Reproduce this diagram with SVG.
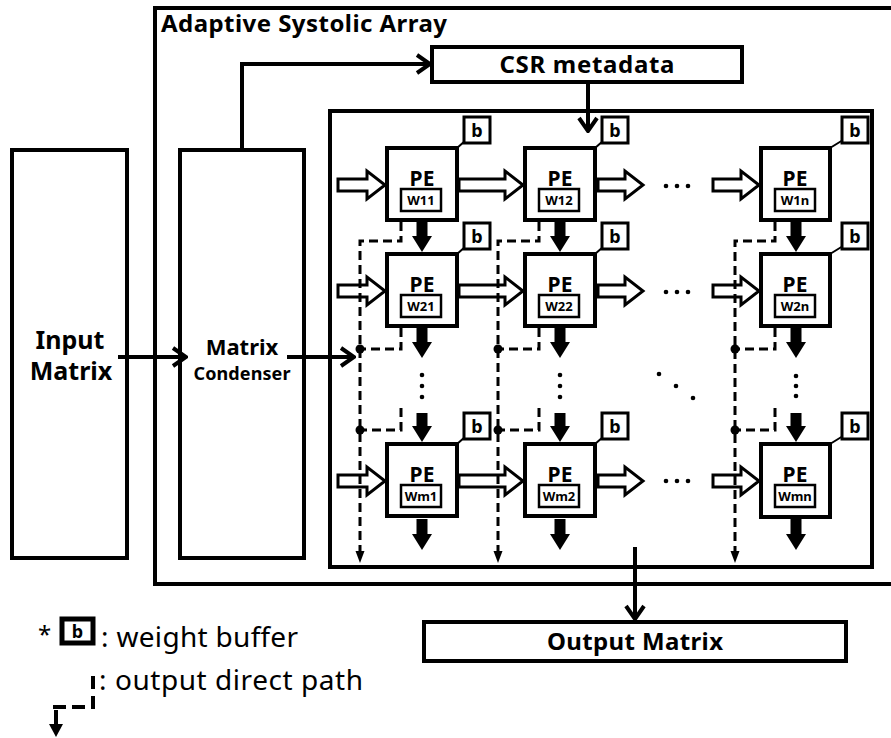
<svg xmlns="http://www.w3.org/2000/svg" width="891" height="738" viewBox="0 0 891 738">
<style>
text{font-family:"Noto Sans","Open Sans","DejaVu Sans",sans-serif;fill:#000}
.bold{font-weight:bold}
.mid{text-anchor:middle}
.box{fill:#fff;stroke:#000;stroke-width:4}
.pe{fill:#fff;stroke:#000;stroke-width:4}
.wb{fill:#fff;stroke:#000;stroke-width:2.5}
.bb{fill:#fff;stroke:#000;stroke-width:3}
.ln{fill:none;stroke:#000;stroke-width:4}
.thin{fill:none;stroke:#000;stroke-width:2}
.dash{fill:none;stroke:#000;stroke-width:3;stroke-dasharray:9 5}
.hol{fill:#fff;stroke:#000;stroke-width:3;stroke-linejoin:miter}
.blk{fill:#000;stroke:none}
.tpe{font-weight:bold;font-size:21px;text-anchor:middle}
.tw{font-weight:bold;font-size:13px;text-anchor:middle}
.tb{font-weight:bold;font-size:18px;text-anchor:middle}
</style>
<defs>
<marker id="chev" viewBox="-16 -12 18 24" refX="0" refY="0" markerWidth="18" markerHeight="24" orient="auto" markerUnits="userSpaceOnUse">
<path d="M-13,-9 L0,0 L-13,9" fill="none" stroke="#000" stroke-width="4"/>
</marker>
</defs>

<g id="adaptive-systolic-array">
<path class="ln" d="M896,8 H155 V584 H896"/>
<text class="bold" x="161" y="32" font-size="24" textLength="286">Adaptive Systolic Array</text>
</g>

<g id="input-matrix">
<rect class="box" x="12" y="150" width="115" height="408"/>
<text class="bold mid" x="70" y="349" font-size="25">Input</text>
<text class="bold mid" x="71" y="380" font-size="25">Matrix</text>
</g>

<g id="matrix-condenser">
<rect class="box" x="180" y="150" width="124" height="408"/>
<text class="bold mid" x="242" y="355" font-size="22">Matrix</text>
<text class="bold mid" x="242" y="380" font-size="18" textLength="97">Condenser</text>
</g>

<g id="csr-metadata">
<rect class="box" x="432" y="47" width="310" height="35"/>
<text class="bold mid" x="587" y="73" font-size="24" textLength="175">CSR metadata</text>
</g>

<g id="pe-array">
<rect class="box" x="330" y="111" width="542" height="456"/>
</g>

<g id="output-matrix">
<rect class="box" x="424" y="622" width="422" height="39"/>
<text class="bold mid" x="635" y="650" font-size="24" textLength="176">Output Matrix</text>
</g>

<g id="input-flow">
<polygon class="hol" points="338,179 367,179 367,171 385,185 367,199 367,191 338,191"/>
<polygon class="hol" points="459,179 505,179 505,171 523,185 505,199 505,191 459,191"/>
<polygon class="hol" points="598,179 625,179 625,171 643,185 625,199 625,191 598,191"/>
<polygon class="hol" points="713,179 741,179 741,171 759,185 741,199 741,191 713,191"/>
<polygon class="hol" points="338,285 367,285 367,277 385,291 367,305 367,297 338,297"/>
<polygon class="hol" points="459,285 505,285 505,277 523,291 505,305 505,297 459,297"/>
<polygon class="hol" points="598,285 625,285 625,277 643,291 625,305 625,297 598,297"/>
<polygon class="hol" points="713,285 741,285 741,277 759,291 741,305 741,297 713,297"/>
<polygon class="hol" points="338,475 367,475 367,467 385,481 367,495 367,487 338,487"/>
<polygon class="hol" points="459,475 505,475 505,467 523,481 505,495 505,487 459,487"/>
<polygon class="hol" points="598,475 625,475 625,467 643,481 625,495 625,487 598,487"/>
<polygon class="hol" points="713,475 741,475 741,467 759,481 741,495 741,487 713,487"/>
</g>

<g id="ellipses">
<circle class="blk" cx="666" cy="186" r="2.3"/><circle class="blk" cx="677" cy="186" r="2.3"/><circle class="blk" cx="688" cy="186" r="2.3"/>
<circle class="blk" cx="666" cy="292" r="2.3"/><circle class="blk" cx="677" cy="292" r="2.3"/><circle class="blk" cx="688" cy="292" r="2.3"/>
<circle class="blk" cx="666" cy="481" r="2.3"/><circle class="blk" cx="677" cy="481" r="2.3"/><circle class="blk" cx="688" cy="481" r="2.3"/>
<circle class="blk" cx="422" cy="375" r="2.3"/><circle class="blk" cx="422" cy="386" r="2.3"/><circle class="blk" cx="422" cy="397" r="2.3"/>
<circle class="blk" cx="560" cy="375" r="2.3"/><circle class="blk" cx="560" cy="386" r="2.3"/><circle class="blk" cx="560" cy="397" r="2.3"/>
<circle class="blk" cx="796" cy="376" r="2.3"/><circle class="blk" cx="796" cy="386" r="2.3"/><circle class="blk" cx="796" cy="396" r="2.3"/>
<circle class="blk" cx="659" cy="374" r="2.3"/><circle class="blk" cx="676" cy="386" r="2.3"/><circle class="blk" cx="693" cy="398" r="2.3"/>
</g>

<g id="pe-1-1"><rect class="pe" x="387" y="148" width="70" height="72"/><text class="tpe" x="422" y="186">PE</text><rect class="wb" x="401" y="189" width="40" height="22"/><text class="tw" x="421" y="205">W11</text><line class="thin" x1="457" y1="148" x2="465" y2="141"/><rect class="bb" x="464" y="117" width="26" height="26"/><text class="tb" x="477" y="137">b</text></g>
<g id="pe-1-2"><rect class="pe" x="525" y="148" width="70" height="72"/><text class="tpe" x="560" y="186">PE</text><rect class="wb" x="539" y="189" width="40" height="22"/><text class="tw" x="559" y="205">W12</text><line class="thin" x1="595" y1="148" x2="603" y2="141"/><rect class="bb" x="602" y="117" width="26" height="26"/><text class="tb" x="615" y="137">b</text></g>
<g id="pe-1-n"><rect class="pe" x="761" y="148" width="69" height="72"/><text class="tpe" x="795" y="186">PE</text><rect class="wb" x="775" y="189" width="40" height="22"/><text class="tw" x="795" y="205">W1n</text><line class="thin" x1="830" y1="148" x2="843" y2="140"/><rect class="bb" x="842" y="117" width="26" height="26"/><text class="tb" x="855" y="137">b</text></g>

<g id="pe-2-1"><rect class="pe" x="387" y="254" width="70" height="72"/><text class="tpe" x="422" y="292">PE</text><rect class="wb" x="401" y="295" width="40" height="22"/><text class="tw" x="421" y="311">W21</text><line class="thin" x1="457" y1="254" x2="465" y2="247"/><rect class="bb" x="464" y="223" width="26" height="26"/><text class="tb" x="477" y="243">b</text></g>
<g id="pe-2-2"><rect class="pe" x="525" y="254" width="70" height="72"/><text class="tpe" x="560" y="292">PE</text><rect class="wb" x="539" y="295" width="40" height="22"/><text class="tw" x="559" y="311">W22</text><line class="thin" x1="595" y1="254" x2="603" y2="247"/><rect class="bb" x="602" y="223" width="26" height="26"/><text class="tb" x="615" y="243">b</text></g>
<g id="pe-2-n"><rect class="pe" x="761" y="254" width="69" height="72"/><text class="tpe" x="795" y="292">PE</text><rect class="wb" x="775" y="295" width="40" height="22"/><text class="tw" x="795" y="311">W2n</text><line class="thin" x1="830" y1="254" x2="843" y2="246"/><rect class="bb" x="842" y="223" width="26" height="26"/><text class="tb" x="855" y="243">b</text></g>

<g id="pe-m-1"><rect class="pe" x="387" y="444" width="70" height="72"/><text class="tpe" x="422" y="482">PE</text><rect class="wb" x="401" y="485" width="40" height="22"/><text class="tw" x="421" y="501">Wm1</text><line class="thin" x1="457" y1="444" x2="465" y2="437"/><rect class="bb" x="464" y="413" width="26" height="26"/><text class="tb" x="477" y="433">b</text></g>
<g id="pe-m-2"><rect class="pe" x="525" y="444" width="70" height="72"/><text class="tpe" x="560" y="482">PE</text><rect class="wb" x="539" y="485" width="40" height="22"/><text class="tw" x="559" y="501">Wm2</text><line class="thin" x1="595" y1="444" x2="603" y2="437"/><rect class="bb" x="602" y="413" width="26" height="26"/><text class="tb" x="615" y="433">b</text></g>
<g id="pe-m-n"><rect class="pe" x="761" y="444" width="69" height="73"/><text class="tpe" x="795" y="482">PE</text><rect class="wb" x="775" y="485" width="40" height="22"/><text class="tw" x="795" y="501">Wmn</text><line class="thin" x1="830" y1="444" x2="843" y2="436"/><rect class="bb" x="842" y="413" width="26" height="26"/><text class="tb" x="855" y="433">b</text></g>

<g id="connectors">
<path class="ln" d="M118,357 H186" marker-end="url(#chev)"/>
<path class="ln" d="M287,357 H354" marker-end="url(#chev)"/>
<path class="ln" d="M242,150 V64 H430" marker-end="url(#chev)"/>
<path class="ln" d="M588,82 V131" marker-end="url(#chev)"/>
<path class="ln" d="M635,547 V619" marker-end="url(#chev)"/>

<polygon class="blk" points="416.5,222 427.5,222 427.5,236 432,236 422,252 412,236 416.5,236"/>
<polygon class="blk" points="416.5,328 427.5,328 427.5,342 432,342 422,358 412,342 416.5,342"/>
<polygon class="blk" points="416.5,413 427.5,413 427.5,426 432,426 422,442 412,426 416.5,426"/>
<polygon class="blk" points="416.5,519 427.5,519 427.5,534 432,534 422,550 412,534 416.5,534"/>
<polygon class="blk" points="554.5,222 565.5,222 565.5,236 570,236 560,252 550,236 554.5,236"/>
<polygon class="blk" points="554.5,328 565.5,328 565.5,342 570,342 560,358 550,342 554.5,342"/>
<polygon class="blk" points="554.5,413 565.5,413 565.5,426 570,426 560,442 550,426 554.5,426"/>
<polygon class="blk" points="554.5,519 565.5,519 565.5,534 570,534 560,550 550,534 554.5,534"/>
<polygon class="blk" points="790.5,222 801.5,222 801.5,236 806,236 796,252 786,236 790.5,236"/>
<polygon class="blk" points="790.5,328 801.5,328 801.5,342 806,342 796,358 786,342 790.5,342"/>
<polygon class="blk" points="790.5,413 801.5,413 801.5,426 806,426 796,442 786,426 790.5,426"/>
<polygon class="blk" points="790.5,519 801.5,519 801.5,534 806,534 796,550 786,534 790.5,534"/>

<path class="dash" d="M401,222 V241 H360 V553"/>
<path class="dash" d="M401,328 V349 H360"/>
<path class="dash" d="M401,408 V430 H360"/>
<circle class="blk" cx="360" cy="349" r="4.5"/><circle class="blk" cx="360" cy="430" r="4.5"/>
<polygon class="blk" points="355.5,551 364.5,551 360,563"/>

<path class="dash" d="M539,222 V241 H498 V553"/>
<path class="dash" d="M539,328 V349 H498"/>
<path class="dash" d="M539,408 V430 H498"/>
<circle class="blk" cx="498" cy="349" r="4.5"/><circle class="blk" cx="498" cy="430" r="4.5"/>
<polygon class="blk" points="493.5,551 502.5,551 498,563"/>

<path class="dash" d="M775,222 V241 H735 V553"/>
<path class="dash" d="M775,328 V349 H735"/>
<path class="dash" d="M775,408 V430 H735"/>
<circle class="blk" cx="735" cy="349" r="4.5"/><circle class="blk" cx="735" cy="430" r="4.5"/>
<polygon class="blk" points="730.5,551 739.5,551 735,563"/>
</g>

<g id="legend">
<text x="38" y="643" font-size="24">*</text>
<rect x="62" y="619" width="31" height="24" fill="#fff" stroke="#000" stroke-width="5"/>
<text class="tb" x="77.5" y="638">b</text>
<text x="101" y="647" font-size="28" textLength="197">: weight buffer</text>
<line class="ln" x1="53" y1="707" x2="66" y2="707"/>
<line class="ln" x1="72" y1="707" x2="85" y2="707"/>
<line class="ln" x1="93" y1="676" x2="93" y2="689"/>
<line class="ln" x1="93" y1="696" x2="93" y2="709"/>
<line class="ln" x1="56" y1="710" x2="56" y2="727"/>
<polygon class="blk" points="49,724 63,724 56,737"/>
<text x="99" y="690" font-size="28" textLength="264">: output direct path</text>
</g>
</svg>
